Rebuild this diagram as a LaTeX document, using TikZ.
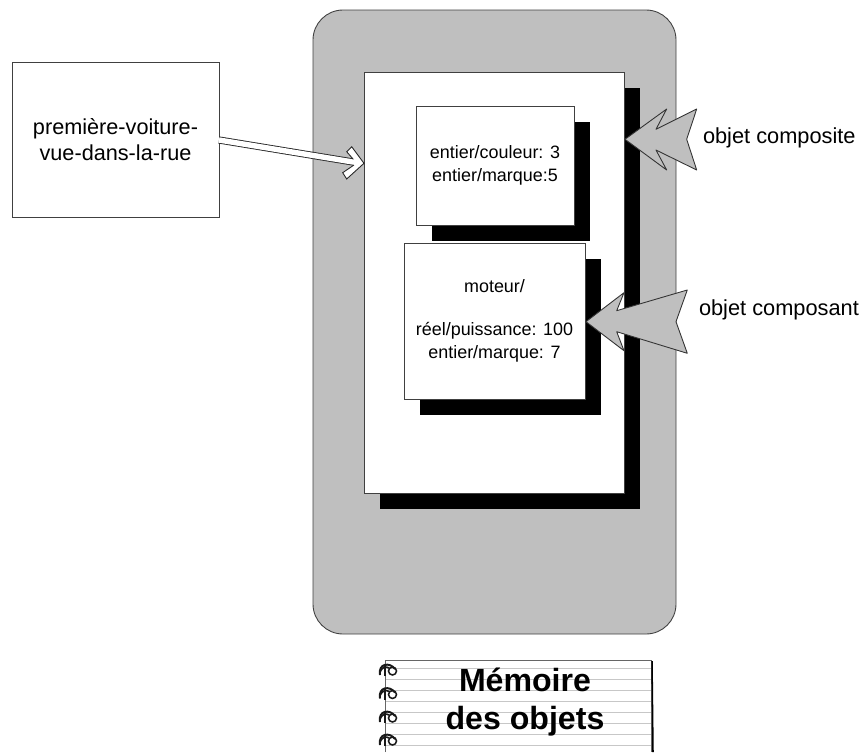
\documentclass[tikz,border=0pt]{standalone}
\usepackage{fontspec}
\setmainfont{Liberation Sans}
\usepackage{tkz-euclide}
\usetikzlibrary{calc}
\usetikzlibrary{positioning}
\usetikzlibrary{shadows}
\definecolor{mygray}{rgb}{0.75,0.75,0.75}
\definecolor{myline}{rgb}{0.78,0.78,0.78}

\begin{document}
\begin{tikzpicture}[%
  scale=3,
  every node/.style={inner sep=0pt, outer sep=0pt},
  frame/.style={draw=black!75, line width=0.75pt},
  objbox/.style={frame, fill=white, align=center, font=\fontsize{15.3pt}{19.6pt}\selectfont,
    general shadow={fill=black, shadow xshift=0.48cm, shadow yshift=-0.48cm}},
  namebox/.style={frame, fill=white, align=center, font=\fontsize{18.5pt}{22.2pt}\selectfont},
  lbl/.style={anchor=west, font=\fontsize{18.6pt}{20pt}\selectfont},
  titre/.style={font=\fontsize{27.4pt}{34pt}\bfseries\selectfont},
]

  \useasboundingbox (0,0) rectangle (8.68,-7.52);

  \node[frame, fill=mygray, rounded corners=0.9cm, minimum width=10.89cm, minimum height=18.72cm] (memoire) at (4.945,-3.22) {};
  \node[objbox, minimum width=7.8cm, minimum height=12.63cm] (composite) at (4.94,-2.825) {};
  \node[objbox, minimum width=4.74cm, minimum height=3.57cm] (couleur) at (4.95,-1.655)
    {entier/couleur: 3\\entier/marque:5};
  \node[objbox, minimum width=5.43cm, minimum height=4.68cm] (moteur) at (4.945,-3.21)
    {moteur/\\[17pt]réel/puissance: 100\\entier/marque: 7};
  \node[namebox, minimum width=6.21cm, minimum height=4.65cm] (rue) at (1.155,-1.395)
    {première-voiture-\\vue-dans-la-rue};

  \tkzDefPoint(2.19,-1.40){a0}
  \tkzDefPoint(3.56,-1.625){a1}
  \draw[line width=0.75pt, draw=black!85, double=white, double distance=4.6pt] (a0) -- (a1);

  \tkzDefPoint(3.533,-1.593){h0}
  \tkzDefPoint(3.467,-1.517){h1}
  \tkzDefPoint(3.517,-1.467){h2}
  \tkzDefPoint(3.64,-1.633){h3}
  \tkzDefPoint(3.467,-1.79){h4}
  \tkzDefPoint(3.427,-1.727){h5}
  \tkzDefPoint(3.54,-1.65){h6}
  \filldraw[line width=0.75pt, draw=black!85, fill=white, line join=miter]
    (h0) -- (h1) -- (h2) -- (h3) -- (h4) -- (h5) -- (h6);

  \tkzDefPoint(6.25,-1.393){b0}
  \tkzDefPoint(6.667,-1.09){b1}
  \tkzDefPoint(6.56,-1.293){b2}
  \tkzDefPoint(6.967,-1.09){b3}
  \tkzDefPoint(6.867,-1.393){b4}
  \tkzDefPoint(6.967,-1.70){b5}
  \tkzDefPoint(6.56,-1.50){b6}
  \tkzDefPoint(6.667,-1.70){b7}
  \tkzFillPolygon[color=mygray](b0,b1,b2,b3,b4,b5,b6,b7)
  \tkzDrawPolygon[line width=0.75pt, color=black!80](b0,b1,b2,b3,b4,b5,b6,b7)

  \tkzDefPoint(5.86,-3.217){c0}
  \tkzDefPoint(6.24,-2.927){c1}
  \tkzDefPoint(6.167,-3.107){c2}
  \tkzDefPoint(6.873,-2.90){c3}
  \tkzDefPoint(6.76,-3.217){c4}
  \tkzDefPoint(6.873,-3.533){c5}
  \tkzDefPoint(6.167,-3.317){c6}
  \tkzDefPoint(6.24,-3.507){c7}
  \tkzFillPolygon[color=mygray](c0,c1,c2,c3,c4,c5,c6,c7)
  \tkzDrawPolygon[line width=0.75pt, color=black!80](c0,c1,c2,c3,c4,c5,c6,c7)

  \node[lbl] (objcomposite) at (7.03,-1.38) {objet composite};
  \node[lbl] (objcomposant) at (6.99,-3.10) {objet composant};

  \foreach \y in {6.68,6.79,...,7.53}
    \draw[myline, line width=0.85pt] (3.85,-\y) -- (6.51,-\y);
  \draw[draw=black!60, line width=0.85pt] (3.85,-7.52) -- (3.85,-6.60) -- (6.51,-6.60);
  \draw[draw=black!60, line width=0.5pt] (6.51,-6.60) -- (6.51,-7.52);
  \draw[black, line width=1.3pt] (6.52,-6.61) -- (6.53,-7.52);

  \foreach \y in {6.70,6.935,7.17,7.40}{
    \draw[black!90, line width=1.7pt] (3.80,-\y-0.05) .. controls (3.78,-\y+0.07) and (3.90,-\y+0.08) .. (3.95,-\y+0.01);
    \draw[black!90, line width=1.4pt] (3.80,-\y-0.02) .. controls (3.82,-\y+0.03) and (3.86,-\y+0.04) .. (3.89,-\y+0.02);
    \draw[black!90, line width=1.3pt] (3.925,-\y-0.01) circle (0.04);
    \draw[black!90, line width=1.2pt] (3.85,-\y-0.06) -- ++(0,0.11);
  }

  \node[titre] (titre1) at (5.25,-6.80) {Mémoire};
  \node[titre] (titre2) at (5.25,-7.215) {des objets};

\end{tikzpicture}
\end{document}
